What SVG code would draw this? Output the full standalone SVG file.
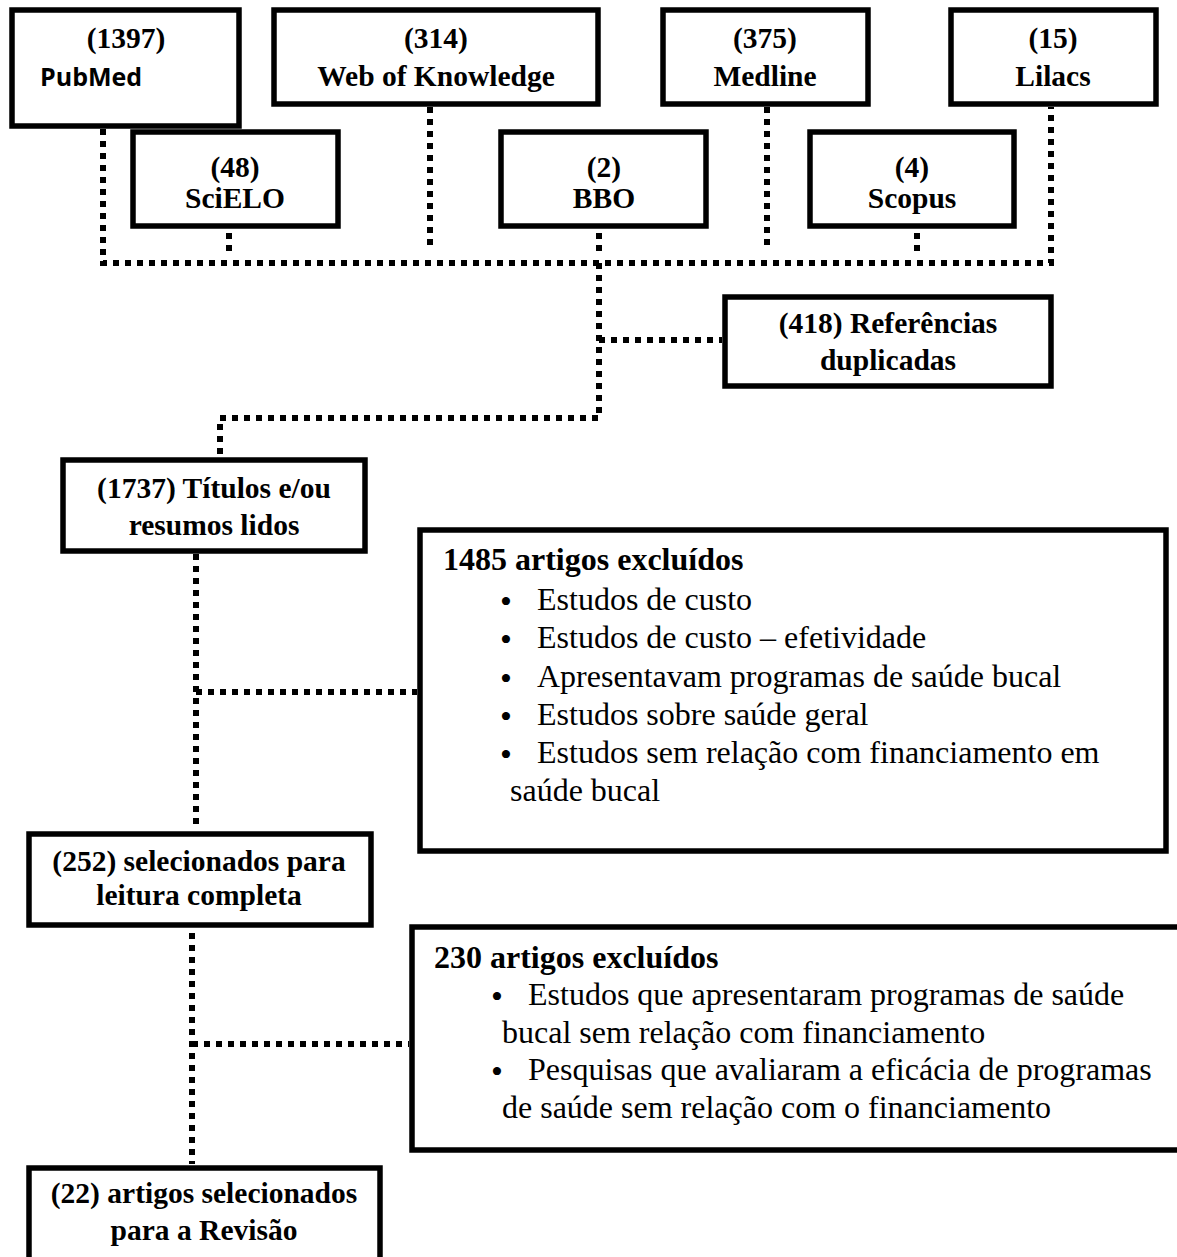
<svg xmlns="http://www.w3.org/2000/svg" width="1177" height="1257" viewBox="0 0 1177 1257">
<style>
.box{fill:#fff;stroke:#000;stroke-width:5.5}
.lbl{font-family:"Liberation Serif","Times New Roman",serif;font-weight:bold;font-size:29.5px;fill:#000;text-anchor:middle}
.sans{font-family:"Open Sans","Liberation Sans",Arial,sans-serif;font-weight:bold;font-size:25px;fill:#000}
.hd{font-family:"Liberation Serif","Times New Roman",serif;font-weight:bold;font-size:32px;fill:#000}
.bd{font-family:"Liberation Serif","Times New Roman",serif;font-size:32px;fill:#000}
.bl{font-family:"Liberation Serif","Times New Roman",serif;font-size:34px;fill:#000;text-anchor:middle}
.dot{fill:none;stroke:#000;stroke-width:6;stroke-dasharray:6 6;stroke-linecap:butt}
</style>
<rect width="1177" height="1257" fill="#fff"/>
<g id="connectors">
<path class="dot" d="M103,129 V263 H1051 V107"/>
<path class="dot" d="M229,233 V251"/>
<path class="dot" d="M430,107 V251"/>
<path class="dot" d="M599,233 V251"/>
<path class="dot" d="M767,107 V251"/>
<path class="dot" d="M917,233 V251"/>
<path class="dot" d="M599,263 V418 H220 V457"/>
<path class="dot" d="M599,340 H722"/>
<path class="dot" d="M196,554 V826"/>
<path class="dot" d="M196,692 H417"/>
<path class="dot" d="M192,933 V1164"/>
<path class="dot" d="M192,1044 H409"/>
</g>
<g id="pubmed">
<rect class="box" x="12" y="10" width="227" height="116"/>
<text class="lbl" x="126" y="48">(1397)</text>
<text class="sans" x="40" y="86">PubMed</text>
</g>
<g id="wok">
<rect class="box" x="274" y="10" width="324" height="94"/>
<text class="lbl" x="436" y="48">(314)</text>
<text class="lbl" x="436" y="86">Web of Knowledge</text>
</g>
<g id="medline">
<rect class="box" x="663" y="10" width="205" height="94"/>
<text class="lbl" x="765" y="48">(375)</text>
<text class="lbl" x="765" y="86">Medline</text>
</g>
<g id="lilacs">
<rect class="box" x="951" y="10" width="205" height="94"/>
<text class="lbl" x="1053" y="48">(15)</text>
<text class="lbl" x="1053" y="86">Lilacs</text>
</g>
<g id="scielo">
<rect class="box" x="133" y="132" width="205" height="94"/>
<text class="lbl" x="235" y="177">(48)</text>
<text class="lbl" x="235" y="208">SciELO</text>
</g>
<g id="bbo">
<rect class="box" x="501" y="132" width="205" height="94"/>
<text class="lbl" x="604" y="177">(2)</text>
<text class="lbl" x="604" y="208">BBO</text>
</g>
<g id="scopus">
<rect class="box" x="810" y="132" width="204" height="94"/>
<text class="lbl" x="912" y="177">(4)</text>
<text class="lbl" x="912" y="208">Scopus</text>
</g>
<g id="duplicadas">
<rect class="box" x="725" y="297" width="326" height="89"/>
<text class="lbl" x="888" y="333">(418) Referências</text>
<text class="lbl" x="888" y="370">duplicadas</text>
</g>
<g id="titulos">
<rect class="box" x="63" y="460" width="302" height="91"/>
<text class="lbl" x="214" y="498">(1737) Títulos e/ou</text>
<text class="lbl" x="214" y="535">resumos lidos</text>
</g>
<g id="excl1485">
<rect class="box" x="420" y="530" width="746" height="321"/>
<text class="hd" x="443" y="570">1485 artigos excluídos</text>
<text class="bl" x="506" y="613">•</text><text class="bd" x="537" y="610">Estudos de custo</text>
<text class="bl" x="506" y="651">•</text><text class="bd" x="537" y="648">Estudos de custo – efetividade</text>
<text class="bl" x="506" y="690">•</text><text class="bd" x="537" y="687">Apresentavam programas de saúde bucal</text>
<text class="bl" x="506" y="728">•</text><text class="bd" x="537" y="725">Estudos sobre saúde geral</text>
<text class="bl" x="506" y="766">•</text><text class="bd" x="537" y="763">Estudos sem relação com financiamento em</text>
<text class="bd" x="510" y="801">saúde bucal</text>
</g>
<g id="sel252">
<rect class="box" x="29" y="834" width="342" height="91"/>
<text class="lbl" x="199" y="871">(252) selecionados para</text>
<text class="lbl" x="199" y="905">leitura completa</text>
</g>
<g id="excl230">
<rect class="box" x="412" y="927" width="790" height="223"/>
<text class="hd" x="434" y="968">230 artigos excluídos</text>
<text class="bl" x="497" y="1008">•</text><text class="bd" x="528" y="1005">Estudos que apresentaram programas de saúde</text>
<text class="bd" x="502" y="1043">bucal sem relação com financiamento</text>
<text class="bl" x="497" y="1083">•</text><text class="bd" x="528" y="1080">Pesquisas que avaliaram a eficácia de programas</text>
<text class="bd" x="502" y="1118">de saúde sem relação com o financiamento</text>
</g>
<g id="sel22">
<rect class="box" x="29" y="1168" width="351" height="120"/>
<text class="lbl" x="204" y="1203">(22) artigos selecionados</text>
<text class="lbl" x="204" y="1240">para a Revisão</text>
</g>
</svg>
